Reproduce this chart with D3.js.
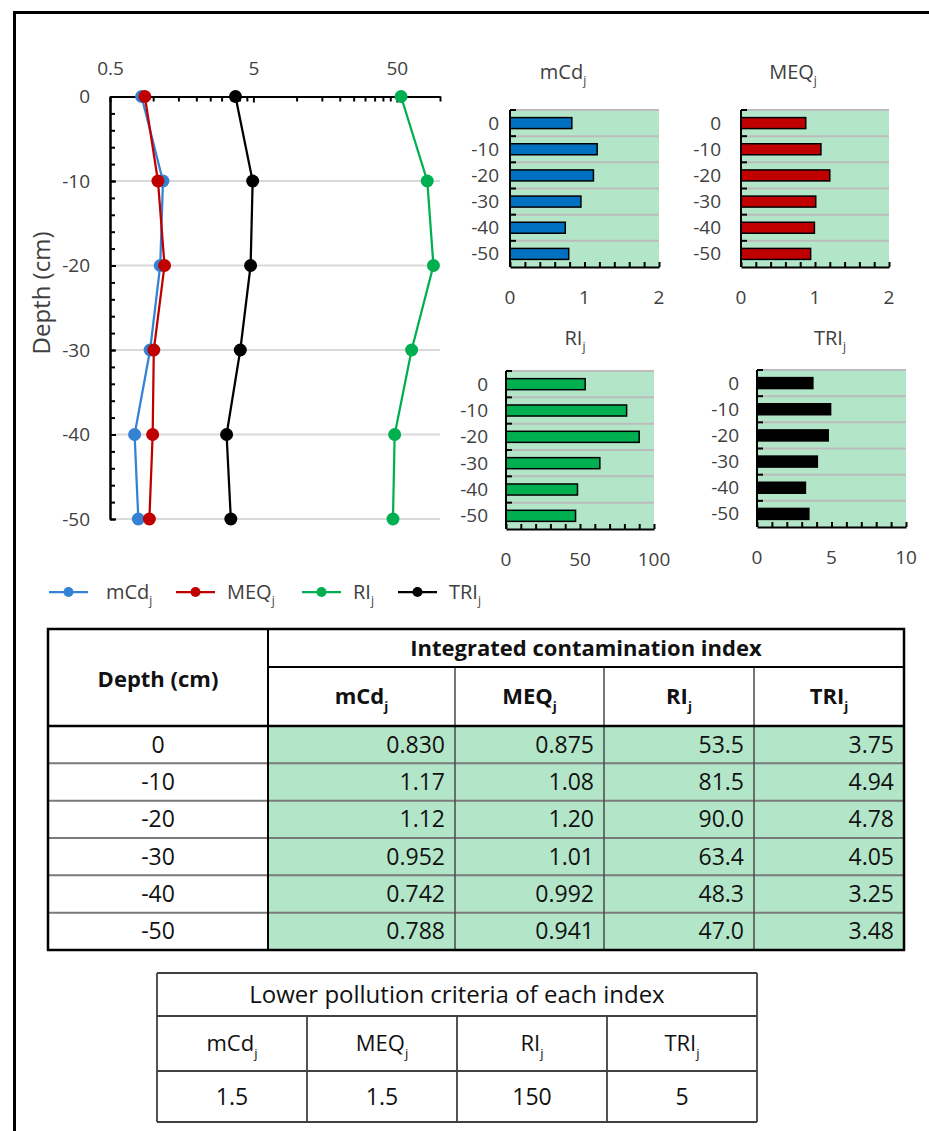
<!DOCTYPE html>
<html>
<head>
<meta charset="utf-8">
<script src="https://cdn.jsdelivr.net/npm/d3@7"></script>
<style>
body { margin: 0; background: #fff; }
svg { display: block; font-family: "Open Sans", Lato, sans-serif; }
</style>
</head>
<body>
<svg id="fig" width="929" height="1131"></svg>
<script>
// ---- data ----
const depths = [0, -10, -20, -30, -40, -50];
const mCd = [0.830, 1.17, 1.12, 0.952, 0.742, 0.788];
const MEQ = [0.875, 1.08, 1.20, 1.01, 0.992, 0.941];
const RI = [53.5, 81.5, 90.0, 63.4, 48.3, 47.0];
const TRI = [3.75, 4.94, 4.78, 4.05, 3.25, 3.48];
const indexNames = ['mCd', 'MEQ', 'RI', 'TRI'];
const lineColors = ['#3382d4', '#c00000', '#00b050', '#000000'];
const barColors = ['#0070c0', '#c00000', '#00b050', '#000000'];
const logTickLabels = [0.5, 5, 50];
const barMax = [2, 2, 100, 10];
const barTickLabels = [[0, 1, 2], [0, 1, 2], [0, 50, 100], [0, 5, 10]];
const criteria = ['1.5', '1.5', '150', '5'];

const series = [mCd, MEQ, RI, TRI];
const svg = d3.select('#fig');
const green = '#b3e6c9';
const grey = '#404040';
const ink = '#111';

// text with a subscript j
function withSub(sel, name, size) {
	sel.append('tspan').text(name);
	sel.append('tspan').text('j').attr('font-size', size * 0.6).attr('dy', size * 0.32);
	return sel;
}

// frame
svg.append('path')
	.attr('d', 'M14.5,1131 V12.5 H929')
	.attr('fill', 'none').attr('stroke', '#000').attr('stroke-width', 3);

// ---- main depth profile ----
const x = d3.scaleLog().domain([0.5, 100]).range([110, 440]);
const y = d3.scaleLinear().domain([0, -50]).range([96.5, 519]);

const main = svg.append('g');

main.selectAll('.grid')
	.data(depths.slice(1))
	.enter().append('line')
	.attr('x1', 110).attr('x2', 440)
	.attr('y1', d => y(d)).attr('y2', d => y(d))
	.attr('stroke', '#d9d9d9').attr('stroke-width', 2);

// minor ticks on the log axis (k * 0.5, k * 5, ...)
let minorX = [];
logTickLabels.forEach(t => {
	for (let k = 2; k <= 9; k++) {
		if (t * k <= 100) minorX.push(t * k);
	}
});

main.append('g')
	.attr('transform', `translate(0,${y(0)})`)
	.call(d3.axisTop(x).tickValues(logTickLabels).tickFormat(d => String(d)).tickSizeInner(-6).tickSizeOuter(0).tickPadding(22));
main.append('g')
	.attr('transform', `translate(0,${y(0)})`)
	.call(d3.axisTop(x).tickValues(minorX).tickFormat('').tickSizeInner(-5).tickSizeOuter(0));

const minorY = d3.range(0, -51, -2);
main.append('g')
	.attr('transform', 'translate(110,0)')
	.call(d3.axisLeft(y).tickValues(minorY).tickFormat('').tickSizeInner(-5).tickSizeOuter(0));
main.append('g')
	.attr('transform', 'translate(110,0)')
	.call(d3.axisLeft(y).tickValues(depths).tickFormat(d => String(d)).tickSizeInner(-6).tickSizeOuter(0).tickPadding(20));

main.selectAll('.domain').attr('stroke', '#000').attr('stroke-width', 2);
main.selectAll('.tick line').attr('stroke', '#000').attr('stroke-width', 2);
main.selectAll('.tick text')
	.attr('font-family', '"Open Sans", sans-serif').attr('font-size', 19).attr('fill', grey);

main.append('text')
	.attr('transform', 'translate(50,293) rotate(-90)')
	.attr('text-anchor', 'middle')
	.attr('font-size', 24).attr('fill', grey)
	.text('Depth (cm)');

const line = d3.line()
	.x(d => x(d.v))
	.y(d => y(d.depth));

series.forEach((vals, s) => {
	const pts = vals.map((v, i) => ({ v, depth: depths[i] }));
	const g = main.append('g');
	g.append('path')
		.datum(pts)
		.attr('d', line)
		.attr('fill', 'none')
		.attr('stroke', lineColors[s])
		.attr('stroke-width', 2.25);
	g.selectAll('circle')
		.data(pts)
		.enter().append('circle')
		.attr('cx', d => x(d.v))
		.attr('cy', d => y(d.depth))
		.attr('r', 6.5)
		.attr('fill', lineColors[s]);
});

// legend
const legendX = [49, 176, 302, 398];
const legend = svg.append('g').attr('transform', 'translate(0,592)');
indexNames.forEach((name, s) => {
	const g = legend.append('g').attr('transform', `translate(${legendX[s]},0)`);
	g.append('line').attr('x1', 0).attr('x2', 39)
		.attr('stroke', lineColors[s]).attr('stroke-width', 2.25);
	g.append('circle').attr('cx', 19.5).attr('r', 5).attr('fill', lineColors[s]);
	withSub(g.append('text')
		.attr('x', s === 0 ? 57 : 51).attr('y', 7)
		.attr('font-size', 20).attr('fill', grey), name, 20);
});

// ---- small bar panels ----
const panels = [
	{ x0: 510, x1: 659, y0: 110, y1: 267, labRight: 499, tx: 563, ty: 79 },
	{ x0: 741, x1: 889, y0: 110, y1: 267, labRight: 721, tx: 793, ty: 79 },
	{ x0: 506, x1: 654, y0: 371, y1: 529, labRight: 488, tx: 575, ty: 345 },
	{ x0: 757, x1: 906, y0: 370, y1: 527, labRight: 739, tx: 830, ty: 345 }
];

panels.forEach((p, s) => {
	const g = svg.append('g');
	const bx = d3.scaleLinear().domain([0, barMax[s]]).range([p.x0, p.x1]);
	const by = d3.scaleBand().domain(depths).range([p.y0, p.y1])
		.paddingInner(0.58).paddingOuter(0.29);
	const step = by.step();

	g.append('rect')
		.attr('x', p.x0).attr('y', p.y0)
		.attr('width', p.x1 - p.x0).attr('height', p.y1 - p.y0)
		.attr('fill', green);

	g.selectAll('.grid')
		.data(depths)
		.enter().append('line')
		.attr('x1', p.x0).attr('x2', p.x1)
		.attr('y1', (d, i) => p.y0 + i * step).attr('y2', (d, i) => p.y0 + i * step)
		.attr('stroke', '#bcbcbc').attr('stroke-width', 2);

	g.selectAll('.bar')
		.data(series[s])
		.enter().append('rect')
		.attr('x', p.x0)
		.attr('y', (d, i) => by(depths[i]))
		.attr('width', d => bx(d) - p.x0)
		.attr('height', by.bandwidth())
		.attr('fill', barColors[s])
		.attr('stroke', '#000').attr('stroke-width', 1.5);

	// y axis with ticks at band edges
	g.append('line')
		.attr('x1', p.x0).attr('x2', p.x0).attr('y1', p.y0).attr('y2', p.y1)
		.attr('stroke', '#000').attr('stroke-width', 2);
	g.selectAll('.ytick')
		.data(depths)
		.enter().append('line')
		.attr('x1', p.x0).attr('x2', p.x0 + 6)
		.attr('y1', (d, i) => p.y0 + i * step).attr('y2', (d, i) => p.y0 + i * step)
		.attr('stroke', '#000').attr('stroke-width', 2);
	g.selectAll('.ylab')
		.data(depths)
		.enter().append('text')
		.attr('x', p.labRight)
		.attr('y', d => by(d) + by.bandwidth() / 2 + 6.5)
		.attr('text-anchor', 'end')
		.attr('font-size', 19).attr('fill', grey)
		.text(d => d);

	// x axis
	g.append('g')
		.attr('transform', `translate(0,${p.y1})`)
		.call(d3.axisBottom(bx).ticks(10).tickFormat('').tickSizeInner(-5).tickSizeOuter(0))
		.call(a => a.select('.domain').attr('stroke', '#000').attr('stroke-width', 2))
		.call(a => a.selectAll('.tick line').attr('stroke', '#000').attr('stroke-width', 2));
	g.selectAll('.xlab')
		.data(barTickLabels[s])
		.enter().append('text')
		.attr('x', d => bx(d))
		.attr('y', p.y1 + 37)
		.attr('text-anchor', 'middle')
		.attr('font-size', 19).attr('fill', grey)
		.text(d => d);

	withSub(g.append('text')
		.attr('x', p.tx).attr('y', p.ty)
		.attr('text-anchor', 'middle')
		.attr('font-size', 20).attr('fill', grey), indexNames[s], 20);
});

// ---- main table ----
const colEdges = [48, 268, 455, 604, 754, 904];
const headTop = 629, headMid = 667, headBottom = 726, tableBottom = 950;
const rowY = d3.scaleLinear().domain([0, depths.length]).range([headBottom, tableBottom]);
const fmt = d3.format('.3r');
const tbl = svg.append('g');

tbl.append('rect')
	.attr('x', colEdges[1]).attr('y', headBottom)
	.attr('width', colEdges[5] - colEdges[1]).attr('height', tableBottom - headBottom)
	.attr('fill', green);

// row separators
tbl.selectAll('.rowline')
	.data(d3.range(1, depths.length))
	.enter().append('line')
	.attr('x1', colEdges[0]).attr('x2', colEdges[5])
	.attr('y1', d => rowY(d)).attr('y2', d => rowY(d))
	.attr('stroke', '#7a7a7a').attr('stroke-width', 2);
// column separators
tbl.selectAll('.colline')
	.data(colEdges.slice(2, 5))
	.enter().append('line')
	.attr('x1', d => d).attr('x2', d => d)
	.attr('y1', headMid).attr('y2', tableBottom)
	.attr('stroke', '#4a4a4a').attr('stroke-width', 1.5);
tbl.append('line')
	.attr('x1', colEdges[1]).attr('x2', colEdges[1]).attr('y1', headTop).attr('y2', tableBottom)
	.attr('stroke', '#000').attr('stroke-width', 2);
tbl.append('line')
	.attr('x1', colEdges[1]).attr('x2', colEdges[5]).attr('y1', headMid).attr('y2', headMid)
	.attr('stroke', '#000').attr('stroke-width', 2);
tbl.append('line')
	.attr('x1', colEdges[0]).attr('x2', colEdges[5]).attr('y1', headBottom).attr('y2', headBottom)
	.attr('stroke', '#000').attr('stroke-width', 2.5);
tbl.append('rect')
	.attr('x', colEdges[0]).attr('y', headTop)
	.attr('width', colEdges[5] - colEdges[0]).attr('height', tableBottom - headTop)
	.attr('fill', 'none').attr('stroke', '#000').attr('stroke-width', 2.5);

tbl.append('text')
	.attr('x', (colEdges[0] + colEdges[1]) / 2).attr('y', 687)
	.attr('text-anchor', 'middle').attr('font-size', 22).attr('font-weight', 700).attr('fill', ink)
	.text('Depth (cm)');
tbl.append('text')
	.attr('x', (colEdges[1] + colEdges[5]) / 2).attr('y', 656)
	.attr('text-anchor', 'middle').attr('font-size', 22).attr('font-weight', 700).attr('fill', ink)
	.text('Integrated contamination index');
indexNames.forEach((name, s) => {
	withSub(tbl.append('text')
		.attr('x', (colEdges[s + 1] + colEdges[s + 2]) / 2).attr('y', 704)
		.attr('text-anchor', 'middle').attr('font-size', 22).attr('font-weight', 700).attr('fill', ink),
		name, 22);
});

depths.forEach((d, i) => {
	const cy = (rowY(i) + rowY(i + 1)) / 2 + 8;
	tbl.append('text')
		.attr('x', (colEdges[0] + colEdges[1]) / 2).attr('y', cy)
		.attr('text-anchor', 'middle').attr('font-size', 23).attr('fill', ink)
		.text(d);
	series.forEach((vals, s) => {
		tbl.append('text')
			.attr('x', colEdges[s + 2] - 10).attr('y', cy)
			.attr('text-anchor', 'end').attr('font-size', 23).attr('fill', ink)
			.text(fmt(vals[i]));
	});
});

// ---- criteria table ----
const cEdges = [157, 307, 457, 607, 757];
const cRows = [973, 1016, 1071, 1122];
const crit = svg.append('g');
crit.selectAll('.h')
	.data(cRows)
	.enter().append('line')
	.attr('x1', cEdges[0]).attr('x2', cEdges[4])
	.attr('y1', d => d).attr('y2', d => d)
	.attr('stroke', '#404040').attr('stroke-width', 1.8);
crit.selectAll('.v')
	.data(cEdges)
	.enter().append('line')
	.attr('x1', d => d).attr('x2', d => d)
	.attr('y1', (d, i) => (i === 0 || i === 4) ? cRows[0] : cRows[1]).attr('y2', cRows[3])
	.attr('stroke', '#404040').attr('stroke-width', 1.8);
crit.append('text')
	.attr('x', (cEdges[0] + cEdges[4]) / 2).attr('y', 1003)
	.attr('text-anchor', 'middle').attr('font-size', 24).attr('fill', ink)
	.text('Lower pollution criteria of each index');
indexNames.forEach((name, s) => {
	const cx = (cEdges[s] + cEdges[s + 1]) / 2;
	withSub(crit.append('text')
		.attr('x', cx).attr('y', 1051)
		.attr('text-anchor', 'middle').attr('font-size', 22).attr('fill', ink), name, 22);
	crit.append('text')
		.attr('x', cx).attr('y', 1105)
		.attr('text-anchor', 'middle').attr('font-size', 23).attr('fill', ink)
		.text(criteria[s]);
});
</script>
</body>
</html>
